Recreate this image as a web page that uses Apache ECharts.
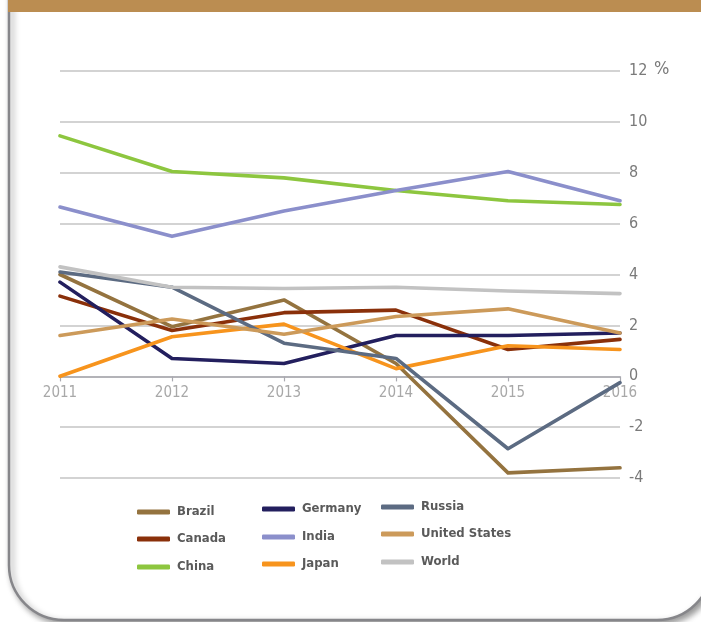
<!DOCTYPE html>
<html>
<head>
<meta charset="utf-8">
<script src="https://cdn.jsdelivr.net/npm/echarts@6/dist/echarts.min.js"></script>
<style>
html,body{margin:0;padding:0;background:#fff;}
#chart{width:701px;height:622px;}
</style>
</head>
<body>
<div id="chart"></div>
<script>
const years = ['2011', '2012', '2013', '2014', '2015', '2016'];
const yTicks = [-4, -2, 0, 2, 4, 6, 8, 10, 12];
const countries = ['Brazil', 'Canada', 'China', 'Germany', 'India', 'Japan', 'Russia', 'United States', 'World'];
const brazil = [4.0, 1.95, 3.0, 0.5, -3.8, -3.6];
const canada = [3.15, 1.8, 2.5, 2.6, 1.05, 1.45];
const china = [9.45, 8.05, 7.8, 7.3, 6.9, 6.75];
const germany = [3.7, 0.7, 0.5, 1.6, 1.6, 1.7];
const india = [6.65, 5.5, 6.5, 7.3, 8.05, 6.9];
const japan = [0.0, 1.55, 2.05, 0.3, 1.2, 1.05];
const russia = [4.1, 3.5, 1.3, 0.7, -2.85, -0.25];
const unitedStates = [1.6, 2.25, 1.65, 2.35, 2.65, 1.7];
const world = [4.3, 3.5, 3.45, 3.5, 3.35, 3.25];

const seriesValues = [brazil, canada, china, germany, india, japan, russia, unitedStates, world];
const colors = ['#94733F', '#8A300A', '#8DC63F', '#231F5E', '#8B8FCB', '#F7941D', '#5C6B82', '#CC9A5A', '#C2C2C2'];

// legend placement: [left, iconCenterY]
const legendPos = [
  [137, 512], [137, 539], [137, 567],
  [262, 509], [262, 537], [262, 564],
  [381, 507], [381, 534], [381, 562]
];

function fontAvailable(name) {
  const c = document.createElement('canvas').getContext('2d');
  const s = 'Brazil Germany United States 2016';
  c.font = '20px monospace';
  const a = c.measureText(s).width;
  c.font = '20px "' + name + '", monospace';
  const b = c.measureText(s).width;
  return Math.abs(a - b) > 0.5;
}
const narrow = fontAvailable('Liberation Sans Narrow');
const FONT = narrow ? '"Liberation Sans Narrow", sans-serif' : '"DejaVu Sans Condensed", sans-serif';
const legendSize = narrow ? 15 : 13;
const axisSize = narrow ? 17 : 15;

const chart = echarts.init(document.getElementById('chart'), null, {renderer: 'canvas'});

const series = countries.map((name, i) => ({
  name: name,
  type: 'line',
  data: seriesValues[i],
  symbol: 'none',
  smooth: false,
  color: colors[i],
  lineStyle: {width: 3.6, color: colors[i], cap: 'round', join: 'round'},
  z: 3
}));

const legends = countries.map((name, i) => ({
  data: [name],
  left: legendPos[i][0],
  top: legendPos[i][1] - 9,
  padding: 0,
  itemWidth: 33,
  itemHeight: 5,
  icon: 'roundRect',
  textStyle: {
    fontFamily: FONT,
    fontSize: legendSize,
    fontWeight: 'bold',
    color: '#5a5a5a',
    lineHeight: 18,
    padding: [0, 0, 0, 2]
  },
  selectedMode: false
}));

const option = {
  backgroundColor: '#ffffff',
  animation: false,
  grid: {left: 60, right: 81, top: 71, bottom: 144, containLabel: false},
  legend: legends,
  xAxis: {
    type: 'category',
    data: years,
    boundaryGap: false,
    position: 'bottom',
    offset: -101.6,
    axisLine: {onZero: false, lineStyle: {color: '#a9a9b0', width: 1.5}},
    axisTick: {show: true, alignWithLabel: true, length: 5, lineStyle: {color: '#a9a9b0', width: 1.2}},
    axisLabel: {color: '#a8a8a8', fontFamily: FONT, fontSize: axisSize, margin: 9},
    splitLine: {show: false},
    z: 2
  },
  yAxis: {
    type: 'value',
    position: 'right',
    min: yTicks[0],
    max: yTicks[yTicks.length - 1],
    interval: 2,
    axisLine: {show: false},
    axisTick: {show: false},
    axisLabel: {color: '#7a7a7a', fontFamily: FONT, fontSize: axisSize + 1, margin: 9,
      formatter: v => yTicks.includes(v) ? String(v) : ''},
    splitLine: {show: true, lineStyle: {color: '#c4c4c4', width: 1.5}}
  },
  graphic: [
    {
      type: 'rect', z: -10, silent: true,
      shape: {x: 9, y: -60, width: 703, height: 680, r: 55},
      style: {fill: '#ffffff', stroke: '#86868a', lineWidth: 2.5,
        shadowColor: 'rgba(0,0,0,0.4)', shadowBlur: 6, shadowOffsetX: 3, shadowOffsetY: 3}
    },
    {
      type: 'rect', z: -5, silent: true,
      shape: {x: 8, y: 0, width: 700, height: 12},
      style: {fill: '#BB8D51'}
    },
    {
      type: 'text', left: 654, top: 60, silent: true,
      style: {text: '%', fill: '#7a7a7a', font: (axisSize + 3) + 'px ' + FONT}
    }
  ],
  series: series
};

chart.setOption(option);
</script>
</body>
</html>
